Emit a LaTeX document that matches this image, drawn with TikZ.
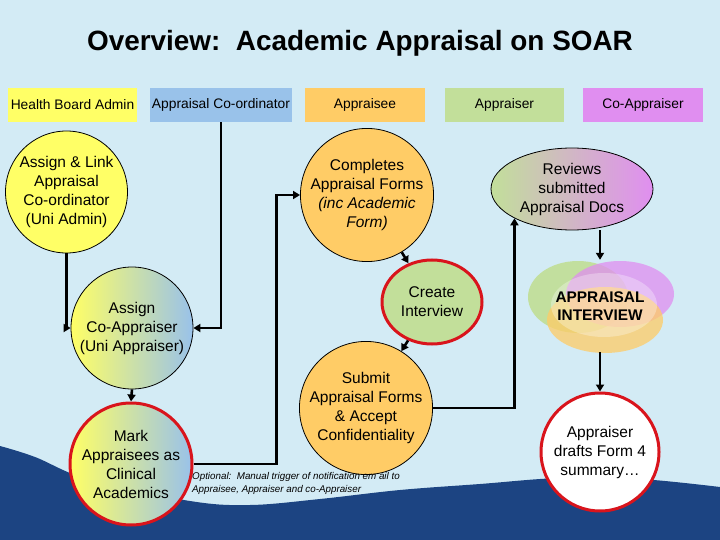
\documentclass[tikz,border=0pt]{standalone}
\usepackage{fontspec}
\setmainfont{Liberation Sans}
\usetikzlibrary{arrows.meta,shapes.geometric}
\definecolor{bgblue}{HTML}{D3EBF5}
\definecolor{navy}{HTML}{1C4482}
\definecolor{yel}{HTML}{FFFF66}
\definecolor{blu}{HTML}{99C2EA}
\definecolor{ora}{HTML}{FFCC66}
\definecolor{gre}{HTML}{C2DF9A}
\definecolor{vio}{HTML}{E08EF0}
\definecolor{redB}{HTML}{D9141C}
\begin{document}
\begin{tikzpicture}[x=1pt,y=-1pt,
  hdr/.style={minimum height=34pt, inner sep=0pt, font=\fontsize{13.8}{16}\selectfont},
  proc/.style={circle, draw=black, line width=0.8pt, minimum size=122pt, inner sep=0pt, align=center, font=\fontsize{15.5}{19}\selectfont},
  redline/.style={draw=redB, line width=3pt},
  conn/.style={line width=2.6pt, -{Triangle[length=7pt,width=8pt]}}
]
\useasboundingbox (0,0) rectangle (720,540);
\fill[bgblue] (0,0) rectangle (720,540);
\fill[navy] plot[smooth, tension=0.6] coordinates {(0,446) (35,457) (90,480) (190,501) (250,505) (320,499) (400,490) (480,484) (560,478) (640,479) (720,487)} -- (720,540) -- (0,540) -- cycle;

\node[font=\fontsize{27.9}{32}\selectfont\bfseries] (title) at (360,43) {Overview:\ \ Academic Appraisal on SOAR};

\node[hdr, fill=yel, minimum width=129pt] (hhb) at (72.5,105) {Health Board Admin};
\node[hdr, fill=blu, minimum width=142pt] (hco) at (221,105) {Appraisal Co-ordinator};
\node[hdr, fill=ora, minimum width=120pt] (hae) at (365,105) {Appraisee};
\node[hdr, fill=gre, minimum width=119pt] (har) at (504.5,105) {Appraiser};
\node[hdr, fill=vio, minimum width=120pt] (hca) at (643,105) {Co-Appraiser};

\node[proc, fill=yel] (assign) at (66.5,192) {Assign \& Link\\Appraisal\\Co-ordinator\\(Uni Admin)};
\node[proc, left color=yel, right color=blu] (acoapp) at (132,328) {Assign\\Co-Appraiser\\(Uni Appraiser)};
\node[proc, left color=yel, right color=blu, redline] (mark) at (131,464) {Mark\\Appraisees as\\Clinical\\Academics};
\node[proc, fill=ora] (comp) at (367,195) {Completes\\Appraisal Forms\\\textit{(inc Academic}\\\textit{Form)}};
\node[proc, ellipse, fill=gre, redline, minimum width=100pt, minimum height=84pt] (create) at (432,302) {Create\\Interview};
\node[proc, fill=ora] (submit) at (366,408) {Submit\\Appraisal Forms\\\& Accept\\Confidentiality};
\node[proc, ellipse, left color=gre, right color=vio, minimum width=162pt, minimum height=82pt] (rev) at (572,189) {Reviews\\submitted\\Appraisal Docs};

\fill[gre, opacity=0.95] (578,297) ellipse [x radius=50pt, y radius=36pt];
\fill[vio, opacity=0.75] (620,294) ellipse [x radius=54pt, y radius=33pt];
\fill[ora, opacity=0.75] (605,320) ellipse [x radius=58pt, y radius=33pt];
\fill[white, opacity=0.3] (604,305) ellipse [x radius=53pt, y radius=32pt];
\node[align=center, inner sep=0pt, minimum width=140pt, minimum height=92pt, font=\fontsize{15.4}{18.5}\selectfont\bfseries] (intv) at (600,306) {APPRAISAL\\INTERVIEW};

\node[proc, fill=white, redline, minimum size=118pt] (draft) at (600,452) {Appraiser\\drafts Form 4\\summary\ldots};

\node[anchor=north west, inner sep=0pt, align=left, font=\fontsize{9.8}{13}\selectfont\itshape] (opt) at (192,472) {Optional:\ \ Manual trigger of notification em ail to\\Appraisee, Appraiser and co-Appraiser};

\draw[conn] (hco.south) |- (acoapp.east);
\draw[conn] (assign.south) |- (acoapp.west);
\draw[conn] (acoapp.south) -- (mark.north);
\draw[conn] (mark.east) -- ++(83,0) |- (comp.west);
\draw[conn] (comp) -- (create);
\draw[conn] (create) -- (submit);
\draw[conn] (submit.east) -| (rev.south west);
\draw[conn] (rev.south -| intv.north) -- (intv.north);
\draw[conn] (intv.south) -- (draft.north);
\end{tikzpicture}
\end{document}
